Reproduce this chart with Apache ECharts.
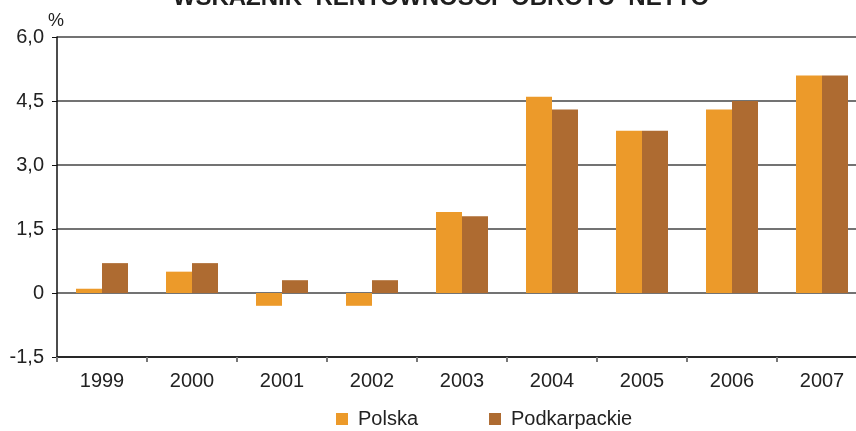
<!DOCTYPE html>
<html>
<head>
<meta charset="utf-8">
<script src="https://cdn.jsdelivr.net/npm/echarts@6/dist/echarts.min.js"></script>
<style>html,body{margin:0;padding:0;background:#fff;overflow:hidden;width:856px;height:431px}#c{width:870px;height:431px}</style>
</head>
<body>
<div id="c"></div>
<script>
const categories = ['1999','2000','2001','2002','2003','2004','2005','2006','2007'];
const polska = [0.1, 0.5, -0.3, -0.3, 1.9, 4.6, 3.8, 4.3, 5.1];
const podkarpackie = [0.7, 0.7, 0.3, 0.3, 1.8, 4.3, 3.8, 4.5, 5.1];
const yTickLabels = {'-1.5':'-1,5','0':'0','1.5':'1,5','3':'3,0','4.5':'4,5','6':'6,0'};
const titleText = 'WSKAŹNIK  RENTOWNOŚCI  OBROTU  NETTO';
const unitText = '%';

const chart = echarts.init(document.getElementById('c'), null, {renderer:'canvas'});
const font = 'Liberation Sans, Arial, sans-serif';
chart.setOption({
  animation: false,
  textStyle: {fontFamily: font},
  graphic: [
    {type:'text', x:441, y:-14, style:{text:titleText, fontSize:24, fontWeight:'bold', fontFamily:font, fill:'#1e1e1e', align:'center', verticalAlign:'top'}},
    {type:'text', x:56, y:12, style:{text:unitText, fontSize:18, fontFamily:font, fill:'#222', align:'center', verticalAlign:'top'}}
  ],
  legend: {
    left: 336, top: 409, padding: 0,
    icon: 'rect', itemWidth: 12, itemHeight: 12, itemGap: 71,
    textStyle: {fontSize: 20, color: '#222', fontFamily: font, padding:[0,0,0,5]},
    data: ['Polska','Podkarpackie']
  },
  grid: {left: 57, top: 37, width: 810, height: 320, containLabel: false},
  xAxis: {
    type: 'category', data: categories,
    axisLine: {onZero: false, lineStyle: {color: '#111', width: 1.5}},
    axisTick: {show: true, length: 5, lineStyle: {color: '#777', width: 2}},
    axisLabel: {fontSize: 20, color: '#222', margin: 14, fontFamily: font}
  },
  yAxis: {
    type: 'value', min: -1.5, max: 6, interval: 1.5,
    axisLine: {show: true, lineStyle: {color: '#111', width: 1.5}},
    axisTick: {show: true, length: 5, lineStyle: {color: '#111', width: 1}},
    axisLabel: {fontSize: 20, color: '#222', margin: 13, fontFamily: font,
      formatter: v => yTickLabels[String(v)] !== undefined ? yTickLabels[String(v)] : String(v)},
    splitLine: {show: true, lineStyle: {color: '#444', width: 1.5}}
  },
  series: [
    {name:'Polska', type:'bar', data: polska, barWidth: 26, barGap: '0%', itemStyle:{color:'#EC9A2A'}},
    {name:'Podkarpackie', type:'bar', data: podkarpackie, barWidth: 26, barGap: '0%', itemStyle:{color:'#AE6B31'}}
  ]
});
</script>
</body>
</html>
